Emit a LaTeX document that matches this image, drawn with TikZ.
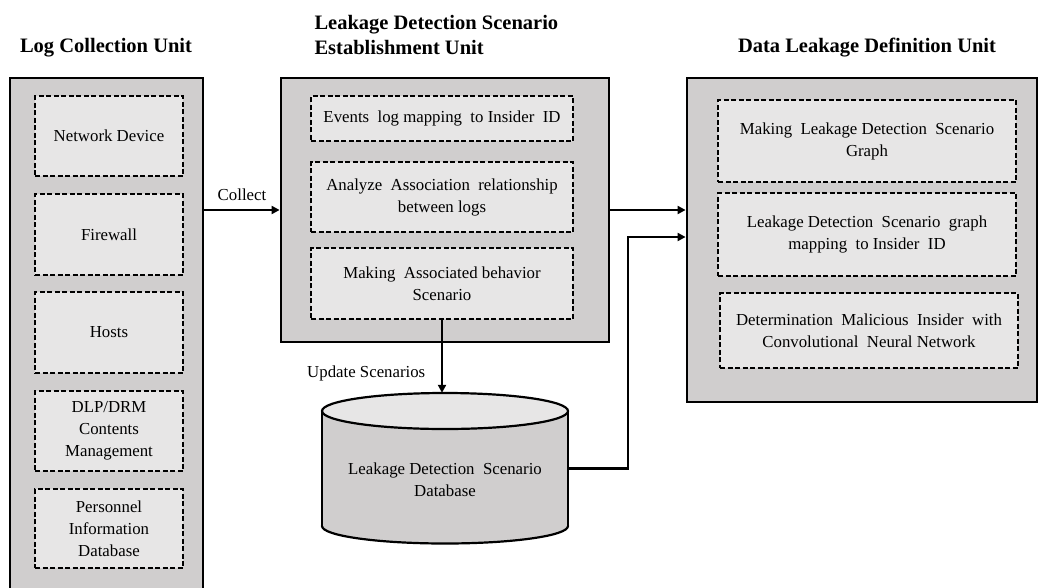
\documentclass[tikz,border=0pt]{standalone}
\usepackage{fontspec}
\setmainfont{Liberation Serif}
\usetikzlibrary{arrows.meta, positioning}
\definecolor{unitgray}{RGB}{208,206,206}
\definecolor{itemgray}{RGB}{231,230,230}

\begin{document}
\begin{tikzpicture}[
          x = 1pt, y = -1pt,
          > = {Triangle[length=8pt,width=8pt]},
unitbox/.style = {draw, line width=2.8pt, fill=unitgray, inner sep=0pt},
itembox/.style = {draw, line width=1.5pt, dash pattern=on 5pt off 2.5pt,
                  fill=itemgray, align=center, inner sep=0pt,
                  font=\fontsize{16.8}{22}\selectfont},
unittitle/.style = {font=\fontsize{20.5}{25}\bfseries\selectfont, align=left},
flowarrow/.style = {line width=2.8pt, ->},
flowlabel/.style = {font=\fontsize{16.8}{22}\selectfont, align=center}
                        ]
\path[use as bounding box] (0,0) rectangle (1039,587);
\clip (0,0) rectangle (1039,587);
% units
    \node[unitbox, minimum width=193pt, minimum height=522pt] (lcu) at (106.5,339) {};
    \node[unitbox, minimum width=328pt, minimum height=264pt] (ldu) at (445,210) {};
    \node[unitbox, minimum width=350pt, minimum height=324pt] (ddu) at (862,240) {};
    \node[unittitle] (lcut) at (106,48) {Log Collection Unit};
    \node[unittitle, anchor=west] (ldut) at (311,35) {Leakage Detection Scenario\\Establishment Unit};
    \node[unittitle] (ddut) at (867,48) {Data Leakage Definition Unit};
% log sources
    \node[itembox, minimum width=148pt, minimum height=80pt] (nd)  at (109,136)   {Network Device};
    \node[itembox, minimum width=148pt, minimum height=81pt] (fw)  at (109,234.5) {Firewall};
    \node[itembox, minimum width=148pt, minimum height=81pt] (hs)  at (109,332.5) {Hosts};
    \node[itembox, minimum width=148pt, minimum height=80pt] (dlp) at (109,431)   {DLP/DRM\\Contents\\Management};
    \node[itembox, minimum width=148pt, minimum height=79pt] (pid) at (109,528.5) {Personnel\\Information\\Database};
% scenario establishment
    \node[itembox, minimum width=262pt, minimum height=45pt] (evt) at (442,118.5) {Events\ \ log mapping\ \ to Insider\ \ ID};
    \node[itembox, minimum width=262pt, minimum height=70pt] (ana) at (442,197)   {Analyze\ \ Association\ \ relationship\\between logs};
    \node[itembox, minimum width=262pt, minimum height=71pt] (mab) at (442,283.5) {Making\ \ Associated behavior\\Scenario};
% leakage definition
    \node[itembox, minimum width=298pt, minimum height=82pt] (mlg) at (867,141)   {Making\ \ Leakage Detection\ \ Scenario\\Graph};
    \node[itembox, minimum width=298pt, minimum height=83pt] (lgm) at (867,234.5) {Leakage Detection\ \ Scenario\ \ graph\\mapping\ \ to Insider\ \ ID};
    \node[itembox, minimum width=298pt, minimum height=75pt] (dmi) at (869,330.5) {Determination\ \ Malicious\ \ Insider\ \ with\\Convolutional\ \ Neural Network};
% database drawn directly
    \draw[line width=2.2pt, fill=unitgray] (445,526) ellipse [x radius=123pt, y radius=17.5pt];
    \fill[unitgray] (322,411) rectangle (568,526);
    \draw[line width=2.2pt] (322,411) -- (322,526) (568,411) -- (568,526);
    \draw[line width=2.2pt, fill=itemgray] (445,411) ellipse [x radius=123pt, y radius=18pt];
    \node[minimum width=246pt, minimum height=151pt, inner sep=0pt,
          label={[flowlabel, yshift=-11pt]center:{Leakage Detection\ \ Scenario\\Database}}] (db) at (445,468.5) {};
% flows
    \coordinate (bend) at (628,237);
    \draw[flowarrow] (lcu.east |- ldu.west) -- node[flowlabel, above=5pt] {Collect} (ldu.west);
    \draw[flowarrow] (ldu.east) -- (ldu.east -| ddu.west);
    \draw[flowarrow] (mab.south) -- node[flowlabel, pos=0.73, left=12pt] {Update Scenarios} (mab.south |- db.north);
    \draw[flowarrow] (db.east) -| (bend) -- (bend -| ddu.west);
\end{tikzpicture}
\end{document}
